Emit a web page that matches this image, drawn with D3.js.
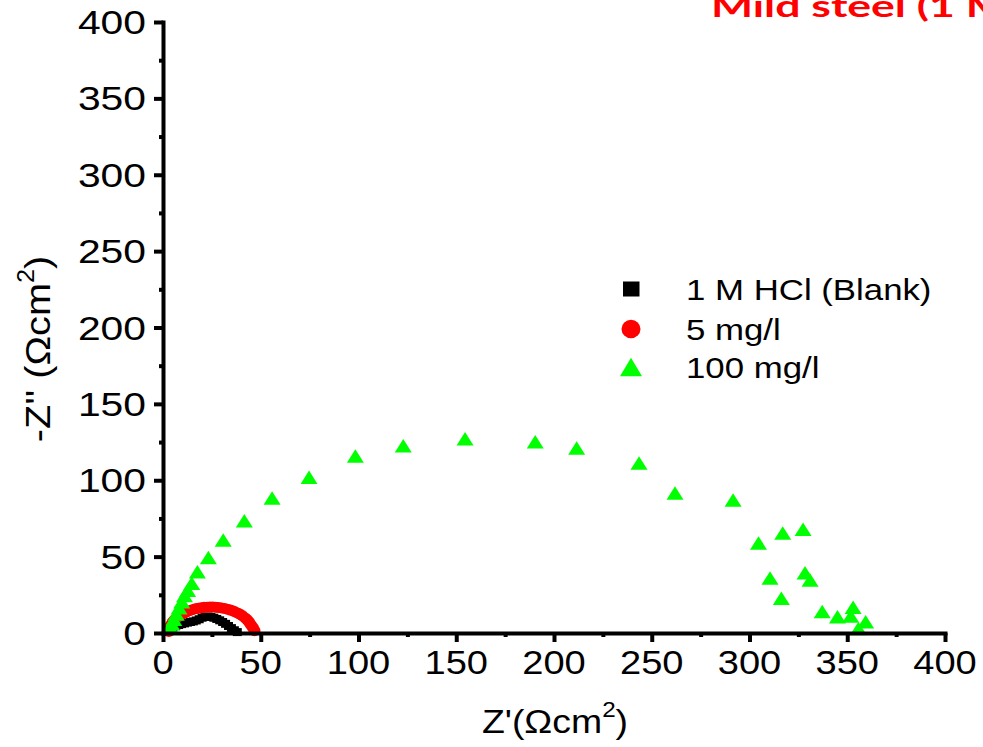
<!DOCTYPE html>
<html><head><meta charset="utf-8">
<script src="https://cdn.jsdelivr.net/npm/d3@7"></script>
<style>body{margin:0;background:#fff;overflow:hidden}svg{display:block}</style>
</head><body>
<svg id="chart" width="983" height="747"></svg>
<script>
// ---- data ----
const xTickValues = [0, 50, 100, 150, 200, 250, 300, 350, 400];
const yTickValues = [0, 50, 100, 150, 200, 250, 300, 350, 400];
const minorTickValues = [25, 75, 125, 175, 225, 275, 325, 375];
const seriesNames = ["1 M HCl (Blank)", "5 mg/l", "100 mg/l"];
const seriesColors = ["#000000", "#ff0000", "#00ff00"];
const titleText = "Mild steel (1 M HCl)";

const blankZre = [3, 4, 5, 6.5, 8, 9.5, 11, 12.5, 14, 15.5, 17, 18.5, 20, 21.5, 23, 24.5, 26, 27.5, 29, 30.5, 32, 33.5, 35, 36.5, 38];
const blankZim = [1, 2.5, 3.5, 4.5, 5.2, 5.8, 6.3, 6.8, 7.2, 7.6, 8.2, 9, 10, 10.5, 10.8, 10.5, 10, 9.2, 8.3, 7.2, 6, 4.6, 3.2, 1.8, 0.6];

const mg5Zre = [3, 4, 5, 6, 7, 8, 9, 10, 11, 12, 13.5, 15, 16.5, 18, 19.5, 21, 22.5, 24, 25.5, 27, 28.5, 30, 31.5, 33, 34.5, 36, 37.5, 39, 40.5, 42, 43, 44, 45, 46, 46.8];
const mg5Zim = [1, 5.1, 7.2, 8.7, 9.9, 10.9, 11.8, 12.6, 13.2, 13.8, 14.6, 15.3, 15.8, 16.2, 16.5, 16.8, 16.9, 17, 17, 16.9, 16.7, 16.4, 16.1, 15.6, 15, 14.4, 13.5, 12.6, 11.4, 9.9, 8.7, 7.2, 5.3, 3.5, 1.5];

const mg100Zre = [3.8, 4.5, 5.5, 6.8, 8.2, 9.6, 11, 12.6, 14.7, 17.6, 23.2, 30.8, 41.6, 55.8, 74.7, 98.4, 122.9, 154.5, 190.4, 211.6, 243.5, 261.9, 291.6, 304.6, 317, 327.4, 310.5, 328.4, 331, 316.3, 337.2, 345, 351.8, 353, 359.4, 355.7];
const mg100Zim = [3.5, 6, 9, 12.5, 16.5, 20.5, 24.5, 28, 32.5, 40.1, 49.5, 60.9, 73.5, 88.4, 102, 115.9, 122.6, 127.2, 125.2, 121.1, 111.3, 91.7, 87, 59, 65.5, 68, 36, 39.5, 34.7, 22.7, 14, 10.7, 11.1, 16.8, 7.4, 3];

// ---- layout ----
const svg = d3.select("#chart");
const x = d3.scaleLinear().domain([0, 400]).range([163, 945]);
const y = d3.scaleLinear().domain([0, 400]).range([633, 22]);
const FONT = "'Liberation Sans', Arial, sans-serif";

function stretched(g, str, px, py, size, kx, anchor) {
  return g.append("text")
    .attr("transform", `translate(${px},${py}) scale(${kx},1)`)
    .attr("text-anchor", anchor || "start")
    .attr("font-family", FONT)
    .attr("font-size", size)
    .attr("fill", "#000")
    .text(str);
}

// ---- markers ----
function triPath(cx, cy, w, h) {
  return `M${cx - w / 2},${cy + h / 2}L${cx + w / 2},${cy + h / 2}L${cx},${cy - h / 2}Z`;
}
const plot = svg.append("g");
const blankData = blankZre.map((v, i) => [v, blankZim[i]]);
const mg5Data = mg5Zre.map((v, i) => [v, mg5Zim[i]]);
const mg100Data = mg100Zre.map((v, i) => [v, mg100Zim[i]]);

plot.append("g").selectAll("rect").data(blankData).join("rect")
  .attr("x", d => x(d[0]) - 4.5).attr("y", d => y(d[1]) - 4)
  .attr("width", 9).attr("height", 8).attr("fill", seriesColors[0]);
plot.append("g").selectAll("ellipse").data(mg5Data).join("ellipse")
  .attr("cx", d => x(d[0])).attr("cy", d => y(d[1]))
  .attr("rx", 6).attr("ry", 5.5).attr("fill", seriesColors[1]);
plot.append("g").selectAll("path").data(mg100Data).join("path")
  .attr("d", d => triPath(x(d[0]), y(d[1]), 17, 13.5)).attr("fill", seriesColors[2]);

// ---- axes ----
const axX = svg.append("g").attr("transform", `translate(0,${y(0)})`);
axX.call(d3.axisBottom(x).tickValues(minorTickValues).tickSize(4).tickSizeOuter(0).tickFormat(""));
axX.selectAll(".tick line").attr("stroke-width", 4);
const axX2 = svg.append("g").attr("transform", `translate(0,${y(0)})`);
axX2.call(d3.axisBottom(x).tickValues(xTickValues).tickSize(9).tickSizeOuter(0).tickFormat(""));
axX2.selectAll(".tick line").attr("stroke-width", 4);
axX2.select(".domain").attr("stroke-width", 4).attr("stroke-linecap", "square");

const axY = svg.append("g").attr("transform", `translate(${x(0)},0)`);
axY.call(d3.axisLeft(y).tickValues(minorTickValues).tickSize(4).tickSizeOuter(0).tickFormat(""));
axY.selectAll(".tick line").attr("stroke-width", 4);
const axY2 = svg.append("g").attr("transform", `translate(${x(0)},0)`);
axY2.call(d3.axisLeft(y).tickValues(yTickValues).tickSize(9).tickSizeOuter(0).tickFormat(""));
axY2.selectAll(".tick line").attr("stroke-width", 4);
axY2.select(".domain").attr("stroke-width", 4).attr("stroke-linecap", "square");
svg.selectAll(".domain").attr("stroke", "#000");

// tick labels
const labels = svg.append("g");
xTickValues.forEach(v => stretched(labels, String(v), x(v), 674, 34, 1.12, "middle"));
yTickValues.forEach(v => stretched(labels, String(v), 146, y(v) + 12, 34, 1.2, "end"));

// axis titles
const xt = stretched(svg, "", 555, 733, 34, 1.1, "middle");
xt.text(null);
xt.append("tspan").text("Z'(Ωcm");
xt.append("tspan").attr("font-size", 22).attr("dy", -16).text("2");
xt.append("tspan").attr("dy", 16).text(")");

const yt = svg.append("text")
  .attr("transform", "translate(50,349) rotate(-90) scale(1.1,1)")
  .attr("text-anchor", "middle").attr("font-family", FONT).attr("font-size", 36);
yt.append("tspan").text("-Z'' (Ωcm");
yt.append("tspan").attr("font-size", 23).attr("dy", -16).text("2");
yt.append("tspan").attr("dy", 16).text(")");

// title (cut off at right edge, as in the original figure)
const titleG = svg.append("g");
const probe = titleG.append("text")
  .attr("font-family", "Lato, 'Open Sans', sans-serif").attr("font-weight", "bold")
  .attr("font-size", 31).text("Mild steel (1 ");
const probeW = probe.node().getComputedTextLength();
probe.remove();
const kTitle = 244 / probeW;
titleG.append("text")
  .attr("transform", `translate(711,17) scale(${kTitle},1)`)
  .attr("font-family", "Lato, 'Open Sans', sans-serif").attr("font-weight", "bold")
  .attr("font-size", 31).attr("fill", "#ff0000").text(titleText);

// legend
const leg = svg.append("g");
const legY = [289, 329, 367];
leg.append("rect").attr("x", 623).attr("y", legY[0] - 7.5).attr("width", 16.5).attr("height", 15).attr("fill", seriesColors[0]);
leg.append("ellipse").attr("cx", 631).attr("cy", legY[1]).attr("rx", 9.5).attr("ry", 9.2).attr("fill", seriesColors[1]);
leg.append("path").attr("d", triPath(631, legY[2], 22, 18.5)).attr("fill", seriesColors[2]);
seriesNames.forEach((n, i) => stretched(leg, n, 686, legY[i] + 11, 29, 1.2, "start"));
</script>
</body></html>
